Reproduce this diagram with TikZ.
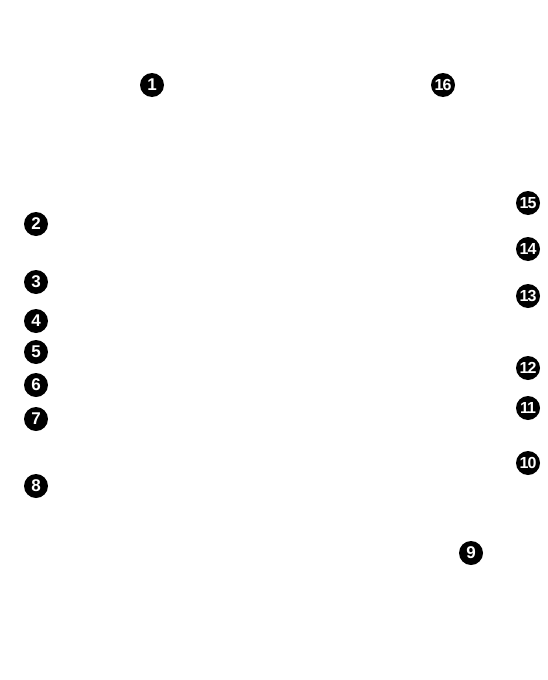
\documentclass[tikz,border=0pt]{standalone}
\usepackage{fontspec}
\setmainfont{Liberation Sans}
\begin{document}
\begin{tikzpicture}[x=1pt,y=-1pt,
  badge/.style={circle,fill=black,inner sep=0pt,minimum size=24pt,text=white,
    font=\fontsize{17}{17}\selectfont\bfseries},
  wide/.style={font=\fontsize{16}{16}\selectfont\bfseries\addfontfeatures{LetterSpace=-6}}]
\useasboundingbox (0,0) rectangle (548,680);
\node[badge] (n1) at (152,85) {1};
\node[badge,wide] (n16) at (443,85) {16};
\node[badge,wide] (n15) at (528,203) {15};
\node[badge,wide] (n14) at (528,249) {14};
\node[badge,wide] (n13) at (528,296) {13};
\node[badge,wide] (n12) at (528,368) {12};
\node[badge,wide] (n11) at (528,408) {11};
\node[badge,wide] (n10) at (528,463) {10};
\node[badge] (n9) at (471,553) {9};
\node[badge] (n2) at (36,224) {2};
\node[badge] (n3) at (36,282) {3};
\node[badge] (n4) at (36,321) {4};
\node[badge] (n5) at (36,352) {5};
\node[badge] (n6) at (36,385) {6};
\node[badge] (n7) at (36,419) {7};
\node[badge] (n8) at (36,486) {8};
\end{tikzpicture}
\end{document}
